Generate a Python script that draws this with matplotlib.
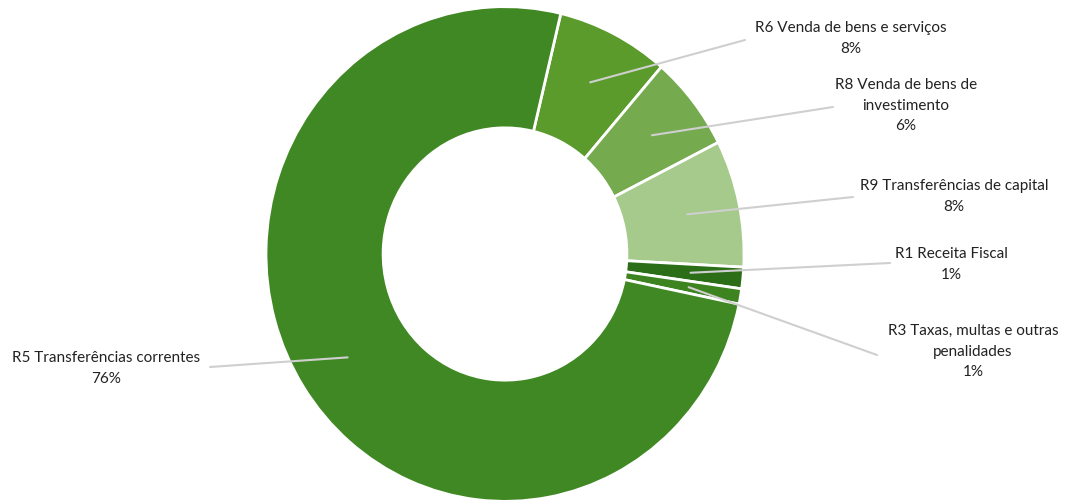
import matplotlib
matplotlib.use("Agg")
import matplotlib.pyplot as plt
import numpy as np

# share of revenue by category (clockwise from the top)
labels = ["R6 Venda de bens e serviços", "R8 Venda de bens de\ninvestimento",
          "R9 Transferências de capital", "R1 Receita Fiscal",
          "R3 Taxas, multas e outras\npenalidades", "R5 Transferências correntes"]
pct_text = ["8%", "6%", "8%", "1%", "1%", "76%"]
values = [7.6, 6.2, 8.3, 1.4, 1.0, 75.5]
colors = ["#5a9b2c", "#76aa4e", "#a5ca8b", "#2c6d18", "#3d8421", "#3f8823"]

# label anchor positions in pixel coords (x, y from top)
label_pos = [(851, 21), (906, 78), (954, 179), (951, 247), (973, 324), (106, 351)]
line_end = [(745, 40), (833, 107), (853, 197), (890, 263), (877, 355), (210, 367)]

W, H = 1067, 504
k = 1.035  # the scanned ring is a little taller than wide

def px(x, y):
    return x, (H - y) / k

fig = plt.figure(figsize=(W / 100, H / 100), dpi=100)
ax = fig.add_axes([0, 0, 1, 1])

cx, cy = px(505, 254)
R = 239
wedges, _ = ax.pie(values, colors=colors, startangle=76.5, counterclock=False,
                   center=(cx, cy), radius=R, frame=True,
                   wedgeprops=dict(width=R * 0.49, edgecolor="white", linewidth=2))
ax.set_aspect("auto")
ax.set_xlim(0, W)
ax.set_ylim(0, H / k)
ax.axis("off")

for w, lab, pt, pos, end in zip(wedges, labels, pct_text, label_pos, line_end):
    mid = np.deg2rad((w.theta1 + w.theta2) / 2)
    x0 = cx + 0.78 * R * np.cos(mid)
    y0 = cy + 0.78 * R * np.sin(mid)
    ex, ey = px(*end)
    ax.plot([x0, ex], [y0, ey], color="#cfcfcf", lw=1.5,
            solid_capstyle="round", zorder=3)
    tx, ty = px(*pos)
    ax.text(tx, ty, lab + "\n" + pt, ha="center", va="top",
            fontsize=11, family="Lato", color="#222222", linespacing=1.6)

fig.savefig("out.png", dpi=100, facecolor="white")
